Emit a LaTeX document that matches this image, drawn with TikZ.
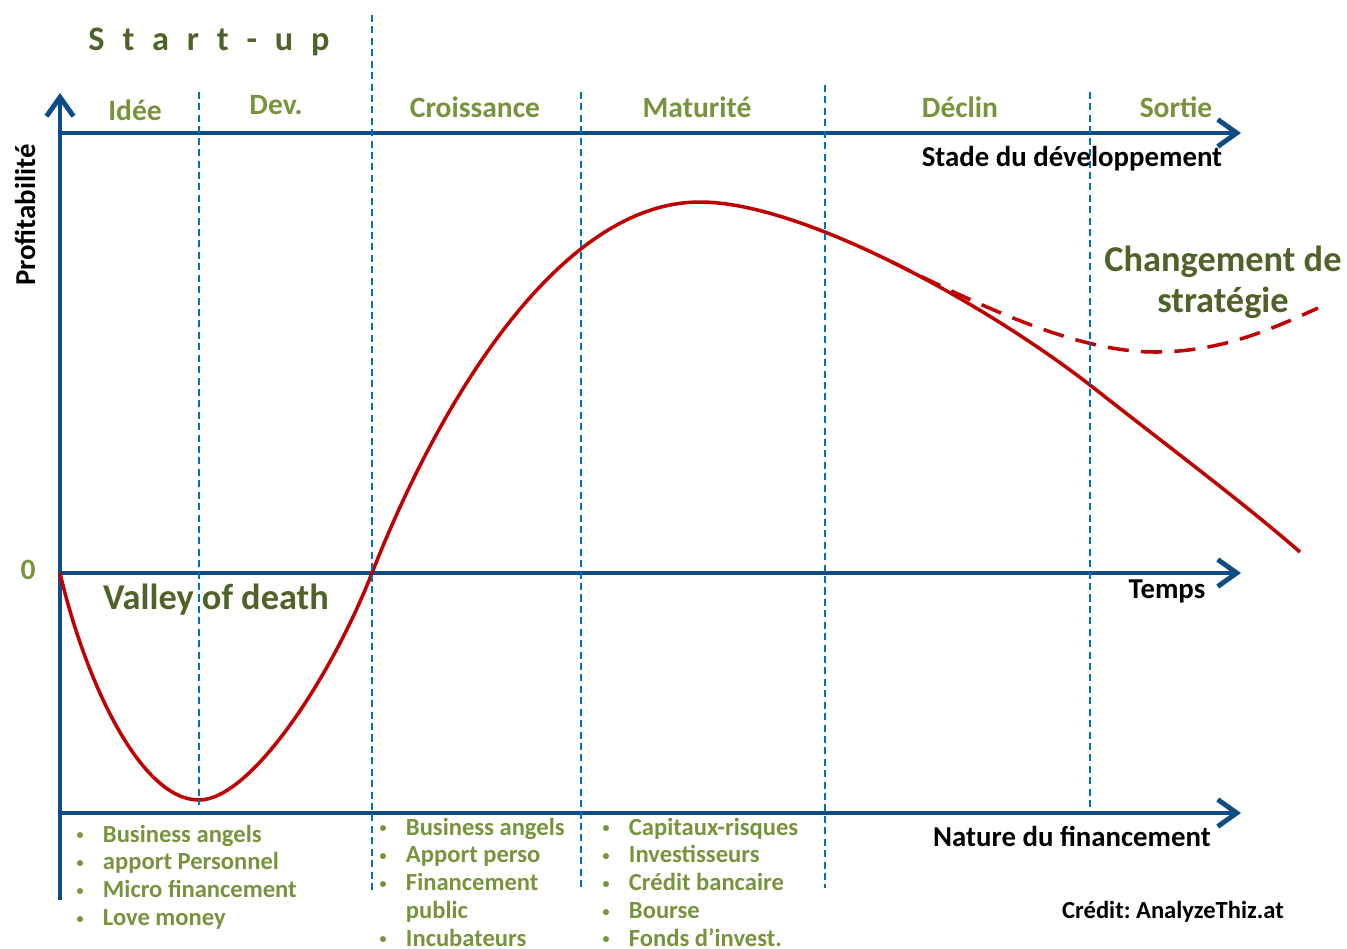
\documentclass[tikz,border=0pt]{standalone}
\usepackage{fontspec}
\setmainfont{Carlito}
\usetikzlibrary{arrows.meta}

\definecolor{axisblue}{RGB}{16,76,132}
\definecolor{stageblue}{RGB}{0,112,192}
\definecolor{curvered}{RGB}{192,0,0}
\definecolor{lightgreen}{RGB}{119,147,60}
\definecolor{darkgreen}{RGB}{79,98,40}

\newcommand{\bul}{\makebox[10pt]{\raisebox{1.6pt}{\fontsize{8}{8}\selectfont\textbullet}}}

\tikzset{
  mainaxis/.style={draw=axisblue, line width=2.8pt, -{Straight Barb[length=3.8mm,width=5.4mm]}},
  stageline/.style={draw=stageblue, line width=1.4pt, dash pattern=on 4pt off 2.5pt},
  profitcurve/.style={draw=curvered, line width=2pt},
  phasename/.style={text=lightgreen, font=\fontsize{16.8}{19}\selectfont\bfseries},
  bigtext/.style={text=darkgreen, font=\fontsize{20.7}{23.5}\selectfont\bfseries},
  axislabel/.style={text=black, font=\fontsize{16.4}{18}\selectfont\bfseries},
  fundlist/.style={text=lightgreen, font=\fontsize{14}{15.9}\selectfont\bfseries, anchor=base west, inner sep=0pt},
}

\begin{document}
\begin{tikzpicture}[x=0.02cm, y=-0.02cm]
  \useasboundingbox (0,0) rectangle (1347,948);

  % axes
  \coordinate (ybot) at (60,900);
  \coordinate (ytop) at (60,93);
  \coordinate (stade) at (60,133);
  \coordinate (orig) at (60,573);
  \coordinate (fin) at (60,813);
  \draw[mainaxis] (ybot) -- (ytop);
  \draw[mainaxis] (stade) -- (1241,133);
  \draw[mainaxis] (orig) -- (1241,573);
  \draw[mainaxis] (fin) -- (1241,813);

  % profitability curve
  \draw[profitcurve] (orig) .. controls (85,680) and (140,800) .. (199,800)
    .. controls (250,800) and (330,680) .. (372,573)
    .. controls (440,400) and (560,202) .. (700,202)
    .. controls (800,202) and (980,300) .. (1090,385) coordinate[pos=0.5] (split)
    .. controls (1170,448) and (1240,500) .. (1300,552);
  \draw[profitcurve, dash pattern=on 12pt off 7pt] (split)
    .. controls (990,311) and (1080,352) .. (1155,352)
    .. controls (1220,352) and (1270,330) .. (1318,308);

  % stages
  \draw[stageline] (199,92) -- (199,805);
  \draw[stageline] (372,15) -- (372,890);
  \draw[stageline] (581,92) -- (581,888);
  \draw[stageline] (825,85) -- (825,888);
  \draw[stageline] (1090,92) -- (1090,808);

  \node[text=darkgreen, font=\fontsize{19.5}{22}\selectfont\bfseries] (startup) at (209,42)
    {S\hspace{.52em}t\hspace{.52em}a\hspace{.52em}r\hspace{.52em}t\hspace{.52em}-\hspace{.52em}u\hspace{.52em}p};
  \node[phasename] (idee) at (135,110) {Idée};
  \node[phasename] (dev) at (276,105) {Dev.};
  \node[phasename] (croiss) at (475,107) {Croissance};
  \node[phasename] (matur) at (697,107) {Maturité};
  \node[phasename] (declin) at (960,107) {Déclin};
  \node[phasename] (sortie) at (1176,107) {Sortie};
  \node[phasename] (zero) at (28,570) {0};

  \node[axislabel] (stadelbl) at (1072,159) {Stade du développement};
  \node[axislabel, rotate=90] (profit) at (25,215) {Profitabilité};
  \node[axislabel] (temps) at (1167,591) {Temps};
  \node[axislabel] (natlbl) at (1072,836) {Nature du financement};
  \node[axislabel, font=\fontsize{14}{16}\selectfont\bfseries] (credit) at (1173,912) {Crédit:\ AnalyzeThiz.at};

  \node[bigtext] (valley) at (216,600) {Valley of death};
  \node[bigtext, align=center] (change) at (1223,282) {Changement de\\stratégie};

  % financing
  \node[fundlist] (fund1) at (71,842) {\begin{tabular}[t]{@{}c@{\hspace{8pt}}l@{}}
    \bul & Business angels\\
    \bul & apport Personnel\\
    \bul & Micro financement\\
    \bul & Love money
  \end{tabular}};
  \node[fundlist] (fund2) at (374,835) {\begin{tabular}[t]{@{}c@{\hspace{8pt}}l@{}}
    \bul & Business angels\\
    \bul & Apport perso\\
    \bul & Financement\\
    & public\\
    \bul & Incubateurs
  \end{tabular}};
  \node[fundlist] (fund3) at (597,835) {\begin{tabular}[t]{@{}c@{\hspace{8pt}}l@{}}
    \bul & Capitaux-risques\\
    \bul & Investisseurs\\
    \bul & Crédit bancaire\\
    \bul & Bourse\\
    \bul & Fonds d’invest.
  \end{tabular}};
\end{tikzpicture}
\end{document}
